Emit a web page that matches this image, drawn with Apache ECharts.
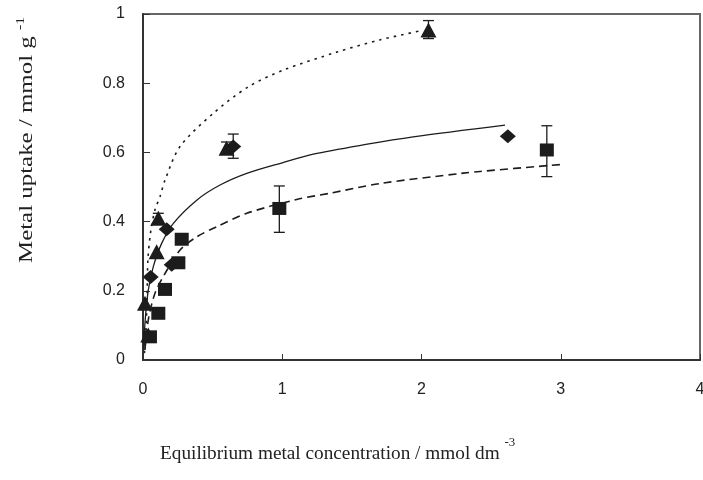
<!DOCTYPE html>
<html><head><meta charset="utf-8">
<script src="https://cdn.jsdelivr.net/npm/echarts@6/dist/echarts.min.js"></script>
<style>html,body{margin:0;padding:0;background:#fff}#c{width:703px;height:480px}</style>
</head><body><div id="c"></div>
<script>
// x tick labels / y tick labels
const xTicks = [0, 1, 2, 3, 4];
const yTicks = [0, 0.2, 0.4, 0.6, 0.8, 1];
// Triangles (data)
const triX = [0.038, 0.014, 0.098, 0.110, 0.600, 2.050];
const triY = [0.072, 0.164, 0.313, 0.410, 0.612, 0.954];
// Diamonds (data)
const diaX = [0.055, 0.170, 0.206, 0.648, 2.620];
const diaY = [0.240, 0.378, 0.275, 0.617, 0.647];
// Squares (data)
const sqX = [0.050, 0.110, 0.158, 0.254, 0.278, 0.979, 2.900];
const sqY = [0.067, 0.135, 0.204, 0.281, 0.349, 0.438, 0.607];
// Error bars
const errX = [0.110, 0.600, 0.648, 2.050, 0.979, 2.900];
const errLow = [0.400, 0.595, 0.583, 0.929, 0.369, 0.530];
const errHigh = [0.424, 0.630, 0.653, 0.981, 0.503, 0.677];
// Fitted curves
const dotX = [0.010, 0.022, 0.029, 0.036, 0.057, 0.086, 0.122, 0.158, 0.266, 0.505, 0.754, 1.008, 1.393, 1.700, 2.000];
const dotY = [0.020, 0.095, 0.182, 0.295, 0.376, 0.434, 0.472, 0.520, 0.617, 0.713, 0.789, 0.838, 0.890, 0.925, 0.952];
const solX = [0.007, 0.014, 0.038, 0.074, 0.134, 0.218, 0.386, 0.550, 0.750, 1.000, 1.223, 1.600, 1.940, 2.600];
const solY = [0.029, 0.106, 0.202, 0.270, 0.337, 0.395, 0.462, 0.505, 0.540, 0.570, 0.595, 0.623, 0.645, 0.679];
const dasX = [0.014, 0.038, 0.086, 0.158, 0.266, 0.386, 0.529, 0.745, 1.104, 1.343, 1.700, 2.300, 2.420, 3.000];
const dasY = [0.029, 0.116, 0.193, 0.250, 0.318, 0.356, 0.385, 0.424, 0.464, 0.482, 0.510, 0.540, 0.545, 0.565];

const zip = (a, b) => a.map((v, i) => [v, b[i]]);
const ink = '#1c1c1c';
const chart = echarts.init(document.getElementById('c'));
chart.setOption({
  animation: false,
  backgroundColor: '#fff',
  grid: { left: 143, right: 3, top: 14, bottom: 120, show: true, borderColor: '#666', borderWidth: 2,
          containLabel: false, outerBoundsMode: 'none' },
  xAxis: {
    type: 'value', min: xTicks[0], max: xTicks[xTicks.length - 1], interval: 1,
    axisLine: { lineStyle: { color: '#333', width: 2 } },
    axisTick: { inside: true, length: 6, lineStyle: { color: '#333' } },
    splitLine: { show: false },
    axisLabel: { margin: 22, color: '#222', fontSize: 16, fontFamily: 'Liberation Sans' }
  },
  yAxis: {
    type: 'value', min: yTicks[0], max: yTicks[yTicks.length - 1], interval: 0.2,
    axisLine: { lineStyle: { color: '#333', width: 2 } },
    axisTick: { inside: true, length: 7, lineStyle: { color: '#333' } },
    splitLine: { show: false },
    axisLabel: { margin: 18, color: '#222', fontSize: 16, fontFamily: 'Liberation Sans' }
  },
  graphic: [
    {
      type: 'text', x: 160, y: 437, scaleX: 1.07, silent: true,
      style: {
        text: '{a|Equilibrium metal concentration / mmol dm }{s|-3}',
        rich: {
          a: { fontFamily: 'Liberation Serif', fontSize: 18, fill: '#222', verticalAlign: 'bottom', lineHeight: 26 },
          s: { fontFamily: 'Liberation Serif', fontSize: 12, fill: '#222', verticalAlign: 'top', lineHeight: 26 }
        }
      }
    },
    {
      type: 'text', x: 15, y: 263, rotation: Math.PI / 2, scaleX: 1.31, silent: true,
      style: {
        text: '{a|Metal uptake / mmol g }{s|-1}',
        rich: {
          a: { fontFamily: 'Liberation Serif', fontSize: 19, fill: '#222', verticalAlign: 'bottom', lineHeight: 22 },
          s: { fontFamily: 'Liberation Serif', fontSize: 12, fill: '#222', verticalAlign: 'top', lineHeight: 22 }
        }
      }
    }
  ],
  series: [
    { type: 'line', data: zip(dotX, dotY), symbol: 'none', smooth: 0.3, lineStyle: { color: ink, width: 1.6, type: [2.5, 5] }, z: 2 },
    { type: 'line', data: zip(solX, solY), symbol: 'none', smooth: 0.3, lineStyle: { color: ink, width: 1.3 }, z: 2 },
    { type: 'line', data: zip(dasX, dasY), symbol: 'none', smooth: 0.3, lineStyle: { color: ink, width: 1.6, type: [8, 5] }, z: 2 },
    {
      type: 'custom', z: 3,
      data: errX.map((x, i) => [x, errLow[i], errHigh[i]]),
      renderItem: function (params, api) {
        const lo = api.coord([api.value(0), api.value(1)]);
        const hi = api.coord([api.value(0), api.value(2)]);
        const w = 5.5;
        const st = { stroke: ink, lineWidth: 1.3 };
        return { type: 'group', children: [
          { type: 'line', shape: { x1: lo[0], y1: lo[1], x2: hi[0], y2: hi[1] }, style: st },
          { type: 'line', shape: { x1: lo[0] - w, y1: lo[1], x2: lo[0] + w, y2: lo[1] }, style: st },
          { type: 'line', shape: { x1: hi[0] - w, y1: hi[1], x2: hi[0] + w, y2: hi[1] }, style: st }
        ] };
      }
    },
    { type: 'scatter', data: zip(sqX, sqY), symbol: 'rect', symbolSize: [14, 13], itemStyle: { color: ink, opacity: 1 }, z: 4 },
    { type: 'scatter', data: zip(diaX, diaY), symbol: 'diamond', symbolSize: [16, 14], itemStyle: { color: ink, opacity: 1 }, z: 4 },
    { type: 'scatter', data: zip(triX, triY), symbol: 'triangle', symbolSize: [16, 15], itemStyle: { color: ink, opacity: 1 }, z: 4 }
  ]
});
</script></body></html>
